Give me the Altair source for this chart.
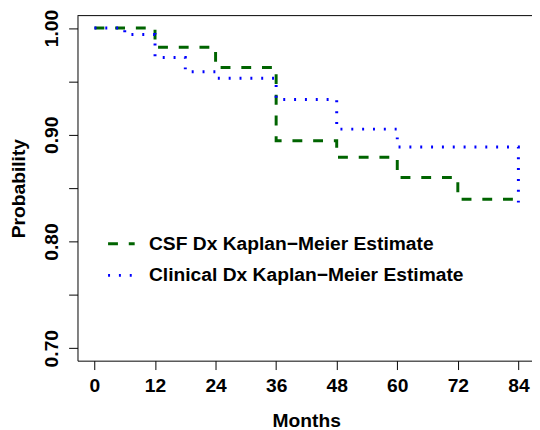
import altair as alt
import pandas as pd

# ---- data ----
csf_months = [0, 12, 24, 36, 48, 60, 72, 84]
csf_surv = [1.0, 0.982, 0.963, 0.8945, 0.879, 0.860, 0.8396, 0.8396]
clin_months = [0, 6, 12, 18, 24, 36, 48, 60, 84]
clin_surv = [1.0, 0.994, 0.9725, 0.959, 0.953, 0.933, 0.9053, 0.8886, 0.8365]
series_names = ["CSF Dx Kaplan\u2212Meier Estimate", "Clinical Dx Kaplan\u2212Meier Estimate"]
series_colors = ["#006400", "#0000ff"]
x_ticks = [0, 12, 24, 36, 48, 60, 72, 84]
y_ticks = [0.70, 0.75, 0.80, 0.85, 0.90, 0.95, 1.00]

rows = []
for m, s in zip(csf_months, csf_surv):
    rows.append({"month": m, "surv": s, "series": series_names[0]})
for m, s in zip(clin_months, clin_surv):
    rows.append({"month": m, "surv": s, "series": series_names[1]})
df = pd.DataFrame(rows)

W, H = 461, 350
FONT = "Liberation Sans"
FS = 19.5

legend = alt.Legend(
    title=None, orient="none", legendX=29.5, legendY=216.5,
    symbolType="stroke", symbolSize=729, symbolStrokeWidth=3,
    labelFont=FONT, labelFontSize=FS, labelFontWeight="bold", labelColor="black",
    labelLimit=500, labelOffset=13, rowPadding=7, padding=0,
)

lines = alt.Chart(df).mark_line(interpolate="step-after", strokeWidth=3, strokeCap="butt", clip=True).encode(
    x=alt.X("month:Q", title="Months",
            scale=alt.Scale(domain=[-3.36, -3.36 + W / 5.119], nice=False, zero=False),
            axis=alt.Axis(values=x_ticks, format="d", grid=False,
                          labelBaseline="alphabetic", labelPadding=22, labelAlign="center",
                          titleX=232, titleY=66.3, titleBaseline="alphabetic", titleAlign="center")),
    y=alt.Y("surv:Q", title="Probability",
            scale=alt.Scale(domain=[0.6883, 1.0117], nice=False, zero=False),
            axis=alt.Axis(values=y_ticks, grid=False,
                          labelExpr="round(datum.value*100) % 10 == 0 ? format(datum.value, '.2f') : ''",
                          labelAngle=270, labelAlign="center", labelBaseline="alphabetic", labelPadding=11,
                          titleX=-54, titleY=H / 2, titleAngle=270, titleBaseline="alphabetic",
                          titleAlign="center")),
    color=alt.Color("series:N", scale=alt.Scale(domain=series_names, range=series_colors), legend=legend),
    strokeDash=alt.StrokeDash("series:N", scale=alt.Scale(domain=series_names, range=[[10, 11], [2, 9]]),
                              legend=legend),
    order=alt.Order("month:Q"),
)

frame_top = alt.Chart(pd.DataFrame({"k": [0]})).mark_rule(color="black", strokeWidth=1).encode(
    x=alt.value(0), x2=alt.value(W), y=alt.value(0)
)

chart = alt.layer(lines, frame_top).properties(
    width=W, height=H,
    autosize=alt.AutoSizeParams(type="none"),
    padding={"left": 70.5, "top": 4.7, "right": 0, "bottom": 67.3},
).configure_view(stroke=None).configure_axis(
    labelFont=FONT, labelFontSize=FS, labelFontWeight="bold", labelColor="black",
    titleFont=FONT, titleFontSize=FS, titleFontWeight="bold", titleColor="black",
    domainColor="black", domainWidth=1, tickColor="black", tickWidth=1, tickSize=9,
)

chart.save("out.html", embed_options={"renderer": "svg", "actions": False})
